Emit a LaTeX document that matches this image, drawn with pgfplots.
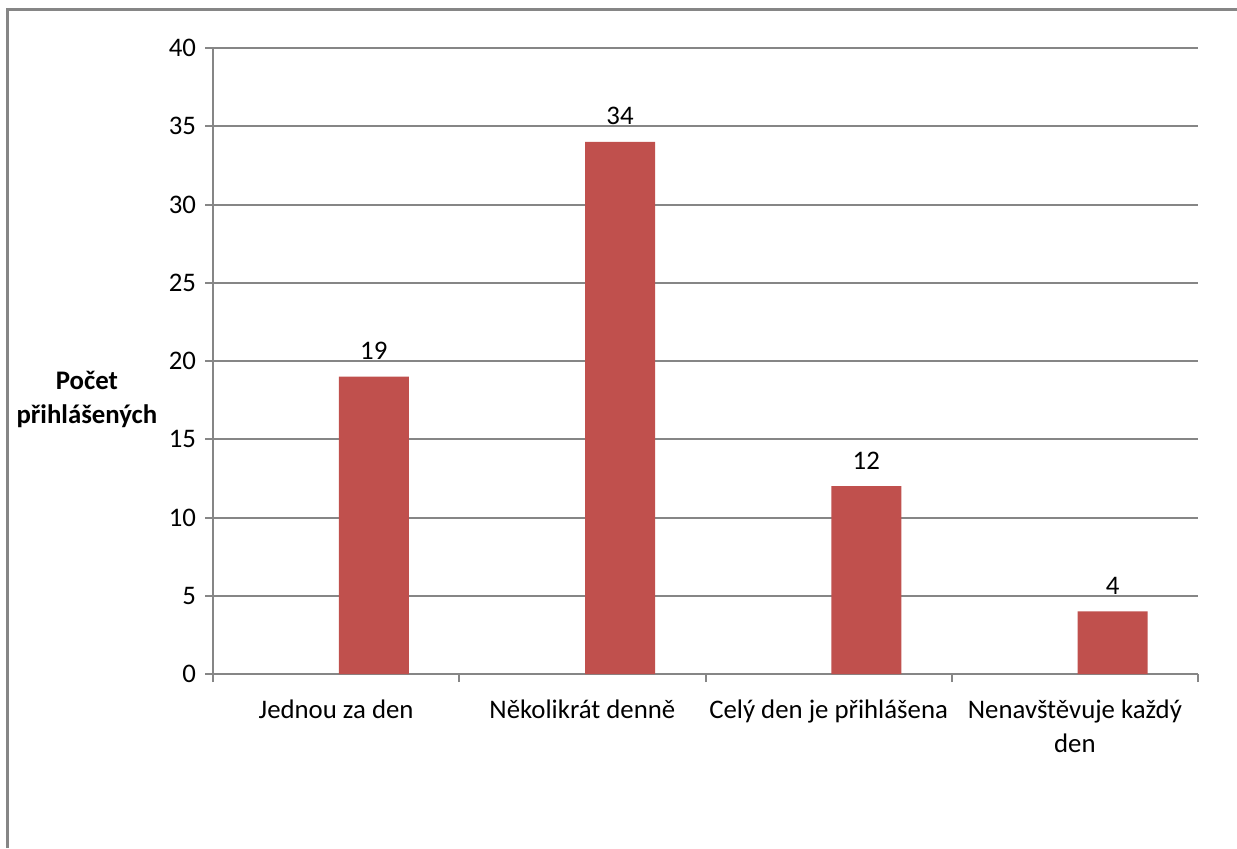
\documentclass[border=0pt]{standalone}
\usepackage{fontspec}
\setmainfont{Carlito}
\usepackage{pgfplots}
\pgfplotsset{compat=1.18}
\definecolor{barred}{HTML}{C0504D}
\definecolor{axisgray}{HTML}{868686}
\begin{document}
\begin{tikzpicture}[font=\fontsize{13.4}{17}\selectfont]
  % page area and chart frame
  \useasboundingbox (0,0) rectangle (618.5pt,424pt);
  \fill[white] (0,0) rectangle (618.5pt,424pt);
  \draw[axisgray, line width=1.5pt] (3.5pt,0) -- (3.5pt,419pt) -- (618.5pt,419pt);
  \begin{axis}[
    at={(106.5pt,87pt)}, anchor=south west,
    scale only axis, width=492.5pt, height=313pt,
    xmin=0, xmax=4, ymin=0, ymax=40,
    ytick={0,5,...,40},
    xtick={0,1,2,3,4}, xticklabels={},
    extra x ticks={0.5,1.5,2.5,3.5},
    extra x tick labels={Jednou za den, Několikrát denně, Celý den je přihlášena, Nenavštěvuje každý\\den},
    extra x tick style={major tick length=0pt, grid=none,
      xticklabel style={align=center, yshift=-9.5pt}},
    axis line style={axisgray, line width=1pt},
    axis x line*=bottom, axis y line*=left,
    ymajorgrids, grid style={axisgray, line width=1pt},
    tick style={axisgray, line width=1pt},
    major tick length=4pt, tick align=outside,
    /pgf/number format/assume math mode=true,
    yticklabel style={xshift=-1pt},
    ylabel={Počet\\přihlášených},
    every axis y label/.style={at={(axis description cs:-0.128,0.438)}, anchor=center, align=center, font=\fontsize{13.4}{17}\selectfont\bfseries},
    nodes near coords, nodes near coords align={vertical},
    every node near coord/.append style={yshift=5pt},
    clip=false,
  ]
    \addplot[ybar, bar width=35pt, fill=barred, draw=none] coordinates {
      (0.653,19) (1.653,34) (2.653,12) (3.653,4)
    };
  \end{axis}
\end{tikzpicture}
\end{document}
